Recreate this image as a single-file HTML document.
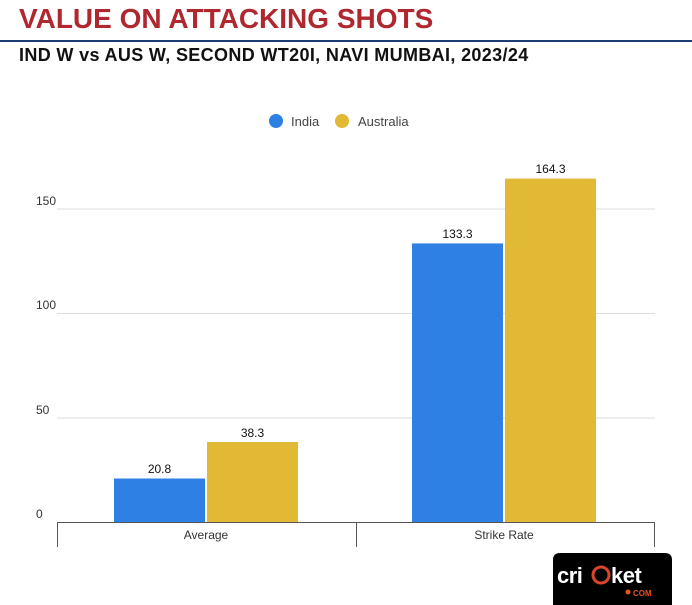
<!DOCTYPE html>
<html><head><style>
body{margin:0;width:692px;height:605px;background:#fff;overflow:hidden;font-family:"Liberation Sans",sans-serif;position:relative}
.t{position:absolute;left:19px;top:3px;font-size:28px;font-weight:bold;color:#b0282f;white-space:nowrap}
.line{position:absolute;left:0;top:40px;width:692px;height:2px;background:#1b3d73}
.s{position:absolute;left:19px;top:45px;font-size:18px;font-weight:bold;color:#111;white-space:nowrap;letter-spacing:0.35px}
</style></head><body>
<div class="t">VALUE ON ATTACKING SHOTS</div>
<div class="line"></div>
<div class="s">IND W vs AUS W, SECOND WT20I, NAVI MUMBAI, 2023/24</div>
<svg width="692" height="605" style="position:absolute;left:0;top:0" font-family="Liberation Sans, sans-serif">
<circle cx="276" cy="121" r="7" fill="#2f80e4"/><text x="291" y="126" font-size="13" fill="#444">India</text>
<circle cx="342" cy="121" r="7" fill="#e2b934"/><text x="358" y="126" font-size="13" fill="#444">Australia</text>
<g stroke="#ddd" stroke-width="1">
<line x1="57" y1="418" x2="655" y2="418"/><line x1="57" y1="313.5" x2="655" y2="313.5"/><line x1="57" y1="209" x2="655" y2="209"/>
</g>
<g font-size="12" fill="#333">
<text x="36" y="518">0</text><text x="36" y="414">50</text><text x="36" y="309">100</text><text x="36" y="205">150</text>
</g>
<rect x="114" y="478.5" width="91" height="43.5" fill="#2f80e4"/>
<rect x="207" y="442" width="91" height="80" fill="#e2b934"/>
<rect x="412" y="243.4" width="91" height="278.6" fill="#2f80e4"/>
<rect x="505" y="178.6" width="91" height="343.4" fill="#e2b934"/>
<g font-size="12" fill="#111" text-anchor="middle">
<text x="159.5" y="473">20.8</text><text x="252.5" y="437">38.3</text>
<text x="457.5" y="238">133.3</text><text x="550.5" y="173">164.3</text>
</g>
<line x1="57" y1="522.5" x2="655" y2="522.5" stroke="#555"/>
<g stroke="#555"><line x1="57.5" y1="522" x2="57.5" y2="547"/><line x1="356.5" y1="522" x2="356.5" y2="547"/><line x1="654.5" y1="522" x2="654.5" y2="547"/></g>
<g font-size="12" fill="#333" text-anchor="middle"><text x="206" y="539">Average</text><text x="504" y="539">Strike Rate</text></g>
<path d="M553 605 V560 Q553 553 560 553 H665 Q672 553 672 560 V605 Z" fill="#000"/>
<text x="557" y="583" font-size="22" fill="#fff" font-weight="bold" letter-spacing="-0.5">cri</text>
<circle cx="601" cy="575" r="8" fill="none" stroke="#d9452a" stroke-width="3"/>
<text x="611" y="583" font-size="22" fill="#fff" font-weight="bold" letter-spacing="-0.5">ket</text>
<circle cx="628" cy="592" r="2.5" fill="#e7541e"/>
<text x="633" y="596" font-size="8" fill="#e7541e" font-weight="bold">COM</text>
</svg>
</body></html>
